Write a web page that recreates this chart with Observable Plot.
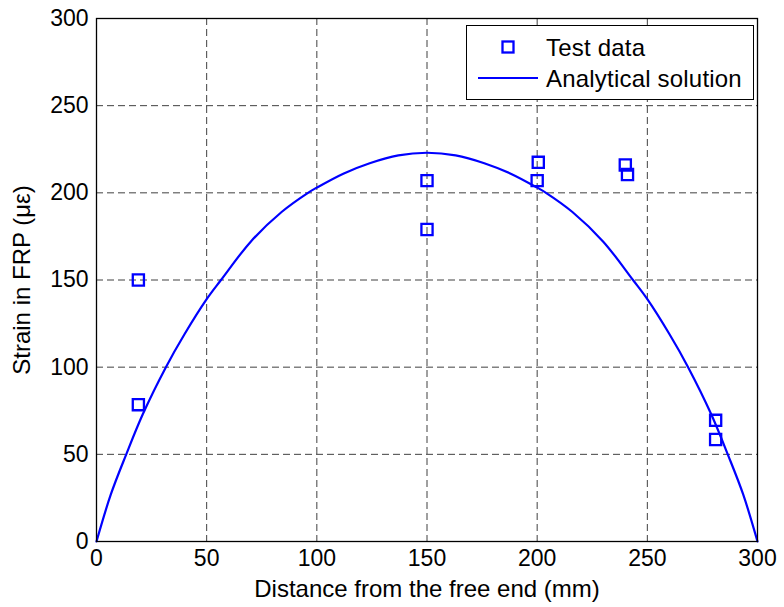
<!DOCTYPE html>
<html><head><meta charset="utf-8">
<script src="https://cdn.jsdelivr.net/npm/d3@7"></script>
<script src="https://cdn.jsdelivr.net/npm/@observablehq/plot@0.6"></script>
<style>
body{margin:0;background:#fff;}
#wrap{position:relative;width:784px;height:607px;font-family:"Liberation Sans",Arial,sans-serif;}
#legend{position:absolute;left:466px;top:25px;}
</style></head><body><div id="wrap"></div>
<script>
// Tick values
const xTicks = [0, 50, 100, 150, 200, 250, 300];
const yTicks = [0, 50, 100, 150, 200, 250, 300];

// Test data
const testX = [19, 19, 150, 150, 200, 200.5, 240, 241, 281, 281];
const testY = [150, 78.5, 207, 179, 207, 217.5, 216, 210.5, 69.5, 58.5];

// Analytical solution curve
const curveX = [0, 6.5, 13.5, 21, 31.5, 40, 50, 56.5, 70, 84, 96, 100, 112, 124, 137, 150, 163, 176, 188, 200, 204, 216, 230, 243.5, 250, 260, 268.5, 279, 286.5, 293.5, 300];
const curveY = [0, 27, 50, 73, 100, 119, 139, 150, 172, 189, 200, 203, 211, 217, 221.5, 223, 221.5, 217, 211, 203, 200, 189, 172, 150, 139, 119, 100, 73, 50, 27, 0];

const test = testX.map((x, i) => ({x, y: testY[i]}));
const curve = curveX.map((x, i) => ({x, y: curveY[i]}));

const blue = "#0000ff";
const font = "'Liberation Sans', Arial, sans-serif";

const chart = Plot.plot({
  width: 784, height: 607,
  marginLeft: 96, marginRight: 27, marginTop: 18, marginBottom: 66,
  style: {fontFamily: font, fontSize: "23px", color: "#000", background: "#fff", overflow: "visible"},
  x: {domain: [0, 300]},
  y: {domain: [0, 300]},
  marks: [
    Plot.gridX(xTicks, {stroke: "#404040", strokeOpacity: 1, strokeDasharray: "7,4"}),
    Plot.gridY(yTicks, {stroke: "#404040", strokeOpacity: 1, strokeDasharray: "7,4"}),
    Plot.line(curve, {x: "x", y: "y", stroke: blue, strokeWidth: 2.2, curve: "catmull-rom"}),
    Plot.dot(test, {x: "x", y: "y", symbol: "square", r: 6.3, stroke: blue, strokeWidth: 2.3, fill: "none"}),
    Plot.frame({stroke: "#000", strokeWidth: 1.3}),
    Plot.axisX({ticks: xTicks, tickSize: 0, tickPadding: 8, tickFormat: d => String(d),
      label: "Distance from the free end (mm)", labelAnchor: "center", labelArrow: "none", labelOffset: 55}),
    Plot.axisY({ticks: yTicks, tickSize: 0, tickPadding: 8, tickFormat: d => String(d),
      label: "Strain in FRP (με)", labelAnchor: "center", labelArrow: "none", labelOffset: 84})
  ]
});

const wrap = document.getElementById("wrap");
wrap.appendChild(chart);

// Axis titles slightly larger than tick labels
d3.select(chart).selectAll('g[aria-label="x-axis label"] text, g[aria-label="y-axis label"] text')
  .style("font-size", "24px");

// Legend
const lg = d3.select(wrap).append("svg").attr("id", "legend")
  .attr("width", 288).attr("height", 75)
  .style("font-family", font).style("font-size", "24px").style("letter-spacing", "0.2px");
lg.append("rect").attr("x", 0.5).attr("y", 0.5).attr("width", 287).attr("height", 74)
  .attr("fill", "#fff").attr("stroke", "#000").attr("stroke-width", 1);
const legendItems = ["Test data", "Analytical solution"];
lg.append("rect").attr("x", 42 - 5.5).attr("y", 22 - 5.5).attr("width", 11).attr("height", 11)
  .attr("fill", "none").attr("stroke", blue).attr("stroke-width", 2.3);
lg.append("line").attr("x1", 12).attr("x2", 72).attr("y1", 53).attr("y2", 53)
  .attr("stroke", blue).attr("stroke-width", 2.2);
legendItems.forEach((t, i) => {
  lg.append("text").attr("x", 80).attr("y", 22 + i * 31).attr("dy", "0.36em").attr("fill", "#000").text(t);
});
</script></body></html>
